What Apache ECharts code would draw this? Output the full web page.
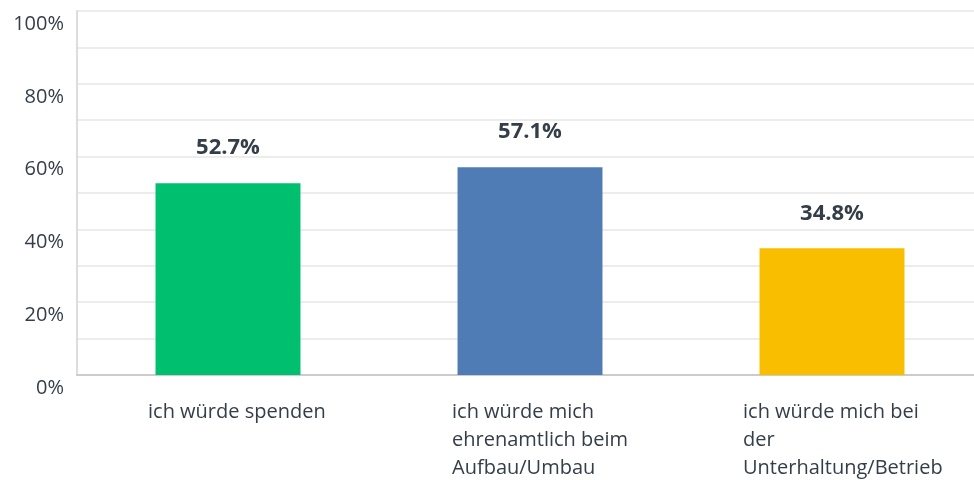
<!DOCTYPE html>
<html>
<head>
<meta charset="utf-8">
<script src="https://cdn.jsdelivr.net/npm/echarts@6/dist/echarts.min.js"></script>
<style>
  html, body { margin: 0; padding: 0; background: #fff; overflow: hidden; }
  #chart { width: 990px; height: 480px; }
</style>
</head>
<body>
<div id="chart"></div>
<script>
// categories, values and colours
var categories = [
    "ich würde spenden",
    "ich würde mich\nehrenamtlich beim\nAufbau/Umbau",
    "ich würde mich bei\nder\nUnterhaltung/Betrieb"
];
var values = [52.7, 57.1, 34.8];
var barColors = ["#00bf6f", "#507cb6", "#f9be00"];
var yTicks = [0, 20, 40, 60, 80, 100];

var textColor = "#333e48";
var font = "'Open Sans', Roboto, sans-serif";

var chart = echarts.init(document.getElementById("chart"));

chart.setOption({
    animation: false,
    grid: { left: 77, top: 11, width: 906, height: 364, containLabel: false },
    xAxis: {
        type: "category",
        data: categories,
        axisLine: { lineStyle: { color: "#cccccc", width: 2 } },
        axisTick: { show: false },
        axisLabel: {
            interval: 0,
            margin: 23,
            align: "center",
            formatter: function (v, i) {
                var tag = ["a", "b", "c"][i];
                return "{" + tag + "|" + v.split("\n").join("}\n{" + tag + "|") + "}";
            },
            rich: {
                a: { width: 160, align: "left", fontSize: 20, lineHeight: 28, color: textColor, fontFamily: font },
                b: { width: 156, align: "left", fontSize: 20, lineHeight: 28, color: textColor, fontFamily: font },
                c: { width: 178, align: "left", fontSize: 20, lineHeight: 28, color: textColor, fontFamily: font }
            }
        }
    },
    yAxis: {
        type: "value",
        min: 0, max: 100, interval: 10,
        axisLine: { show: true, lineStyle: { color: "#dddddd", width: 2 } },
        axisTick: { show: false },
        splitLine: { lineStyle: { color: "#ececec", width: 2 } },
        axisLabel: {
            margin: 13,
            fontSize: 20,
            color: textColor,
            fontFamily: font,
            verticalAlign: "top",
            padding: [3, 0, 0, 0],
            formatter: function (v) { return yTicks.indexOf(v) >= 0 ? v + "%" : ""; }
        }
    },
    series: [{
        type: "bar",
        barWidth: "48%",
        data: values.map(function (v, i) { return { value: v, itemStyle: { color: barColors[i] } }; }),
        label: {
            show: true,
            position: "top",
            distance: 24,
            fontSize: 22,
            fontWeight: "bold",
            color: textColor,
            fontFamily: font,
            formatter: function (p) { return p.value.toFixed(1) + "%"; }
        }
    }]
});
</script>
</body>
</html>
